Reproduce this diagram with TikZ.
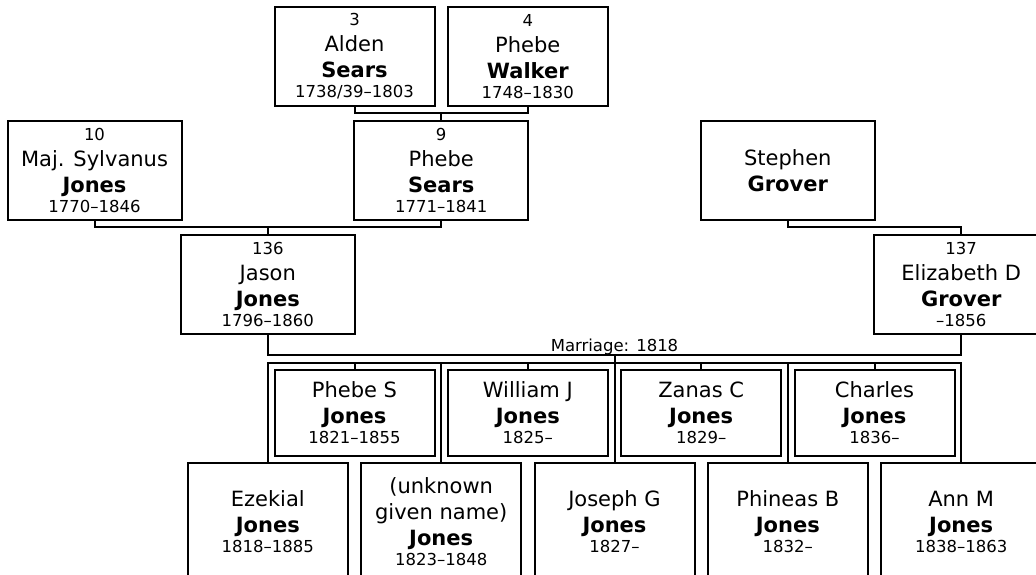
\documentclass[tikz,border=0pt]{standalone}
\usepackage{fontspec}
\setmainfont{DejaVu Sans}
\usepackage{tikz}

\newcommand{\bigtxt}{\fontsize{21}{26}\selectfont}
\newcommand{\smalltxt}{\fontsize{16.5}{20}\selectfont}

\tikzset{
  person/.style={draw,line width=2pt,align=center,inner sep=0pt,minimum height=99pt,font=\bigtxt},
  wide/.style={person,minimum width=174pt},
  narrow/.style={person,minimum width=160pt},
  kid/.style={narrow,minimum height=86pt},
  tallkid/.style={narrow,minimum height=118pt},
  tie/.style={line width=2pt}
}

\begin{document}
\begin{tikzpicture}[x=1pt,y=-1pt]
    \useasboundingbox (0,0) rectangle (1036,574);

    % Kakek nenek dari pihak Phebe Sears
    \node[narrow] (a3) at (354.5,56.5) {{\smalltxt 3}\\Alden\\\textbf{Sears}\\[-6pt]{\smalltxt 1738/39–1803}};
    \node[narrow] (w4) at (527.8,56.5) {{\smalltxt 4}\\Phebe\\\textbf{Walker}\\[-6pt]{\smalltxt 1748–1830}};

    % Orang tua dari Jason dan Elizabeth
    \node[wide] (sj10) at (94.5,170.5) {{\smalltxt 10}\\Maj. Sylvanus\\\textbf{Jones}\\[-6pt]{\smalltxt 1770–1846}};
    \node[wide] (ps9) at (441.2,170.5) {{\smalltxt 9}\\Phebe\\\textbf{Sears}\\[-6pt]{\smalltxt 1771–1841}};
    \node[wide] (sg) at (787.8,170.5) {Stephen\\\textbf{Grover}};

    % Pasangan
    \node[wide] (jj136) at (267.8,284.5) {{\smalltxt 136}\\Jason\\\textbf{Jones}\\[-6pt]{\smalltxt 1796–1860}};
    \node[wide] (eg137) at (961.2,284.5) {{\smalltxt 137}\\Elizabeth D\\\textbf{Grover}\\[-6pt]{\smalltxt –1856}};

    % Anak-anak, baris atas
    \node[kid] (psj) at (354.5,413) {Phebe S\\\textbf{Jones}\\[-6pt]{\smalltxt 1821–1855}};
    \node[kid] (wjj) at (527.8,413) {William J\\\textbf{Jones}\\[-6pt]{\smalltxt 1825–}};
    \node[kid] (zcj) at (701.2,413) {Zanas C\\\textbf{Jones}\\[-6pt]{\smalltxt 1829–}};
    \node[kid] (chj) at (874.5,413) {Charles\\\textbf{Jones}\\[-6pt]{\smalltxt 1836–}};

    % Anak-anak, baris bawah
    \node[tallkid] (ezj) at (267.8,522) {Ezekial\\\textbf{Jones}\\[-6pt]{\smalltxt 1818–1885}};
    \node[tallkid] (unj) at (441.2,522) {(unknown\\given name)\\\textbf{Jones}\\[-6pt]{\smalltxt 1823–1848}};
    \node[tallkid] (jgj) at (614.5,522) {Joseph G\\\textbf{Jones}\\[-6pt]{\smalltxt 1827–}};
    \node[tallkid] (pbj) at (787.8,522) {Phineas B\\\textbf{Jones}\\[-6pt]{\smalltxt 1832–}};
    \node[tallkid] (amj) at (961.2,522) {Ann M\\\textbf{Jones}\\[-6pt]{\smalltxt 1838–1863}};

    % Garis penghubung orang tua
    \coordinate (c1) at (441.2,113);
    \coordinate (c2) at (267.8,227);
    \coordinate (c3) at (787.8,227);
    \draw[tie] (a3.south) |- (c1) -| (w4.south);
    \draw[tie] (c1) -- (ps9.north);
    \draw[tie] (sj10.south) |- (c2) -| (ps9.south);
    \draw[tie] (c2) -- (jj136.north);
    \draw[tie] (sg.south) -- (c3) -| (eg137.north);

    % Garis pernikahan dan anak-anak
    \coordinate (fam) at (614.5,354.5);
    \coordinate (bar) at (614.5,363);
    \draw[tie] (jj136.south) |- (fam) -| (eg137.south);
    \node[anchor=base,font=\smalltxt] (mar) at (614.5,351) {Marriage: 1818};
    \draw[tie] (fam) -- (bar);
    \draw[tie] (ezj.north) |- (bar) -| (amj.north);
    \foreach \k in {psj,unj,wjj,jgj,zcj,pbj,chj}
        \draw[tie] (\k.north) -- (\k.north |- bar);

\end{tikzpicture}
\end{document}
